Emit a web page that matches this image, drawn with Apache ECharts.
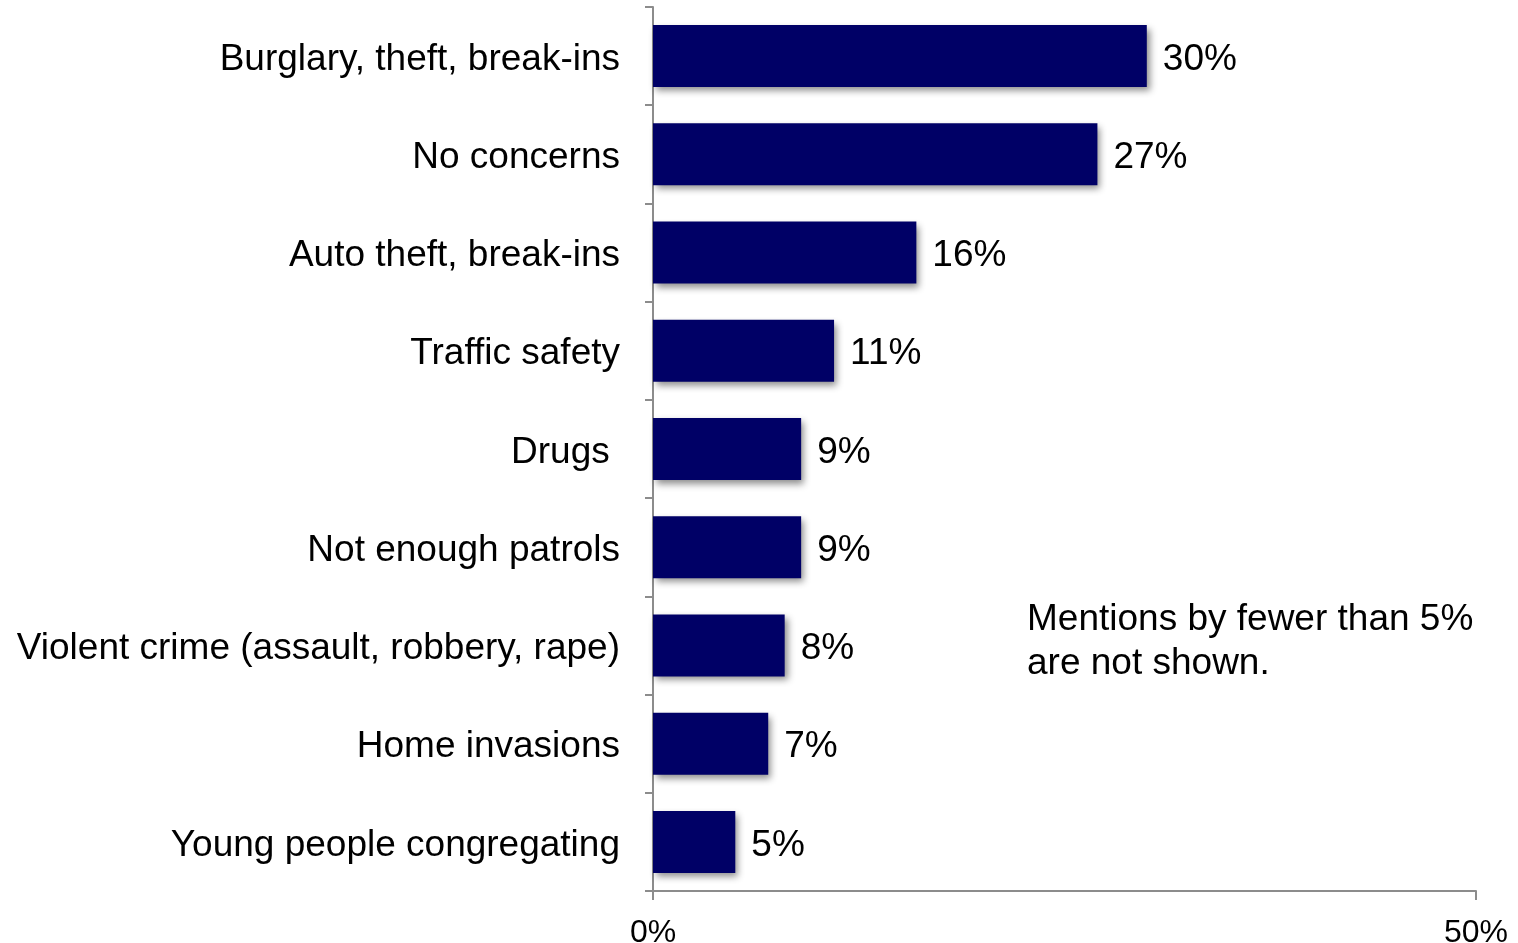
<!DOCTYPE html>
<html>
<head>
<meta charset="utf-8">
<script src="https://cdn.jsdelivr.net/npm/echarts@6/dist/echarts.min.js"></script>
<style>
  html, body { margin: 0; padding: 0; background: #fff; }
  #chart { width: 1518px; height: 943px; }
</style>
</head>
<body>
<div id="chart"></div>
<script>
// Neighbourhood safety concerns, share of mentions (%)
const categories = [
  'Burglary, theft, break-ins',
  'No concerns',
  'Auto theft, break-ins',
  'Traffic safety',
  'Drugs ',
  'Not enough patrols',
  'Violent crime (assault, robbery, rape)',
  'Home invasions',
  'Young people congregating'
];
const shares = [30, 27, 16, 11, 9, 9, 8, 7, 5];
const axisTicks = [0, 50];
const noteLines = ['Mentions by fewer than 5%', 'are not shown.'];

const FONT = '"Liberation Sans", Arial, Helvetica, sans-serif';
const AXIS_GRAY = '#8c8c8c';

const chart = echarts.init(document.getElementById('chart'), null, { renderer: 'canvas' });

chart.setOption({
  animation: false,
  backgroundColor: '#ffffff',
  grid: {
    left: 653, right: 42, top: 7, bottom: 52,
    containLabel: false,
    outerBoundsMode: 'none'
  },
  xAxis: {
    type: 'value',
    min: axisTicks[0],
    max: axisTicks[axisTicks.length - 1],
    interval: axisTicks[1] - axisTicks[0],
    axisLine: { show: true, lineStyle: { color: AXIS_GRAY, width: 2 } },
    axisTick: { show: true, length: 9, lineStyle: { color: AXIS_GRAY, width: 2 } },
    splitLine: { show: false },
    axisLabel: {
      color: '#000',
      fontFamily: FONT,
      fontSize: 32,
      margin: 26,
      formatter: v => v + '%'
    }
  },
  yAxis: {
    type: 'category',
    data: categories,
    inverse: true,
    axisLine: { show: true, lineStyle: { color: AXIS_GRAY, width: 2 } },
    axisTick: { show: true, length: 8, alignWithLabel: false, lineStyle: { color: AXIS_GRAY, width: 2 } },
    axisLabel: {
      color: '#000',
      fontFamily: FONT,
      fontSize: 37,
      margin: 33,
      verticalAlign: 'top',
      lineHeight: 7
    }
  },
  series: [{
    type: 'bar',
    data: shares,
    barWidth: 62,
    itemStyle: {
      color: '#000066',
      shadowColor: 'rgba(0,0,0,0.45)',
      shadowBlur: 7,
      shadowOffsetX: 3,
      shadowOffsetY: 4
    },
    label: {
      show: true,
      position: 'right',
      distance: 16,
      color: '#000',
      fontFamily: FONT,
      fontSize: 37,
      verticalAlign: 'top',
      lineHeight: 7,
      formatter: p => p.value + '%'
    }
  }],
  graphic: [{
    type: 'text',
    left: 1027,
    top: 598,
    style: {
      text: noteLines.join('\n'),
      fill: '#000',
      font: '37px ' + FONT,
      lineHeight: 44
    }
  }]
});
</script>
</body>
</html>
